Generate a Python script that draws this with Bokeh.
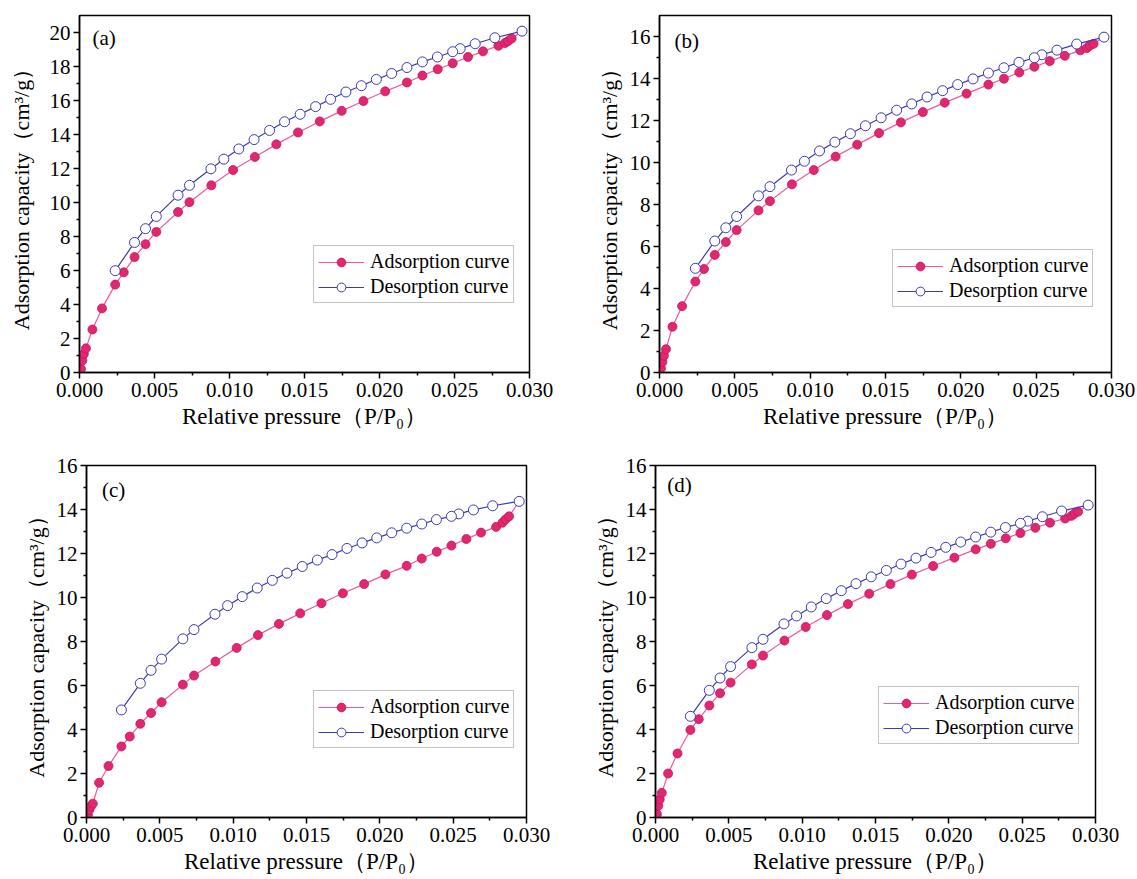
from bokeh.plotting import figure
from bokeh.layouts import column, row
from bokeh.models import FixedTicker, NumeralTickFormatter, Label, Legend, LegendItem, Range1d
from bokeh.embed import file_html
from bokeh.resources import INLINE

# ---------------- data ----------------
ads_p = [0.000095, 0.00019, 0.00029, 0.00043, 0.00086, 0.0015, 0.00238, 0.00295, 0.00367, 0.0044,
         0.00512, 0.00657, 0.00733, 0.00879, 0.01024, 0.01169, 0.01312, 0.01457, 0.01602, 0.01748,
         0.01893, 0.02038, 0.02183, 0.02286, 0.02388, 0.02488, 0.0259, 0.0269, 0.02793, 0.02836,
         0.02857, 0.02881, 0.0295]
des_p = [0.0295, 0.02769, 0.02638, 0.02538, 0.02488, 0.02386, 0.02286, 0.02183, 0.02081, 0.01979,
         0.01879, 0.01776, 0.01674, 0.01574, 0.01471, 0.01367, 0.01267, 0.01164, 0.01062, 0.00962,
         0.00876, 0.00733, 0.00657, 0.00512, 0.0044, 0.00367, 0.00238]

ads_a = [0.21, 0.70, 1.09, 1.42, 2.53, 3.77, 5.17, 5.89, 6.79, 7.55, 8.27, 9.44, 10.02, 11.01, 11.91,
         12.68, 13.42, 14.12, 14.77, 15.39, 15.97, 16.54, 17.06, 17.47, 17.84, 18.19, 18.56, 18.89,
         19.22, 19.38, 19.49, 19.65, 20.08]
des_a = [20.08, 19.69, 19.34, 19.05, 18.87, 18.56, 18.27, 17.94, 17.59, 17.24, 16.87, 16.50, 16.07,
         15.64, 15.19, 14.75, 14.24, 13.70, 13.15, 12.55, 11.98, 11.01, 10.43, 9.18, 8.46, 7.65, 5.99]

ads_b = [0.19, 0.50, 0.80, 1.11, 2.18, 3.16, 4.33, 4.93, 5.60, 6.21, 6.78, 7.72, 8.16, 8.96, 9.64,
         10.28, 10.85, 11.40, 11.91, 12.40, 12.85, 13.28, 13.71, 13.99, 14.29, 14.56, 14.83, 15.08,
         15.34, 15.45, 15.57, 15.65, 15.97]
des_b = [15.97, 15.64, 15.35, 15.13, 14.99, 14.77, 14.51, 14.26, 13.98, 13.71, 13.42, 13.12, 12.79,
         12.49, 12.13, 11.75, 11.37, 10.97, 10.55, 10.06, 9.64, 8.85, 8.41, 7.43, 6.89, 6.26, 4.96]

ads_c = [0.12, 0.35, 0.50, 0.63, 1.58, 2.34, 3.23, 3.68, 4.26, 4.75, 5.24, 6.04, 6.45, 7.09, 7.71,
         8.29, 8.80, 9.28, 9.74, 10.19, 10.61, 11.05, 11.44, 11.77, 12.08, 12.36, 12.66, 12.95,
         13.21, 13.40, 13.55, 13.69, 14.37]
des_c = [14.37, 14.17, 13.98, 13.80, 13.69, 13.54, 13.34, 13.15, 12.94, 12.71, 12.48, 12.23, 11.95,
         11.70, 11.41, 11.11, 10.78, 10.43, 10.04, 9.63, 9.24, 8.54, 8.12, 7.20, 6.69, 6.10, 4.89]

ads_d = [0.15, 0.53, 0.82, 1.12, 2.00, 2.91, 3.98, 4.47, 5.09, 5.65, 6.13, 6.96, 7.36, 8.04, 8.66,
         9.20, 9.70, 10.17, 10.61, 11.04, 11.43, 11.81, 12.19, 12.44, 12.69, 12.93, 13.17, 13.40,
         13.59, 13.71, 13.81, 13.90, 14.20]
des_d = [14.20, 13.93, 13.67, 13.47, 13.37, 13.18, 12.97, 12.75, 12.52, 12.28, 12.05, 11.79, 11.52,
         11.23, 10.94, 10.63, 10.31, 9.95, 9.57, 9.16, 8.80, 8.10, 7.72, 6.86, 6.34, 5.78, 4.60]

panel_labels = ["(a)", "(b)", "(c)", "(d)"]
x_ticks = [0.0, 0.005, 0.010, 0.015, 0.020, 0.025, 0.030]
x_minor = [0.0025, 0.0075, 0.0125, 0.0175, 0.0225, 0.0275]
x_title = "Relative pressure（P/P₀）"
y_title = "Adsorption capacity（cm³/g）"
legend_names = ["Adsorption curve", "Desorption curve"]

FONT = "Liberation Serif"
ADS_LINE = "#F4579C"
ADS_FILL = "#E2266F"
DES_COLOR = "#3B3BB5"


def make_panel(ads, des, ymax, ystep, label, lab_xy, leg_loc, w, h, borders, ylab_standoff):
    left, right, top, bottom = borders
    p = figure(width=w, height=h, output_backend="svg", toolbar_location=None,
               x_range=Range1d(0, 0.030), y_range=Range1d(0, ymax),
               min_border_left=left, min_border_right=right,
               min_border_top=top, min_border_bottom=bottom)
    p.xgrid.visible = False
    p.ygrid.visible = False
    p.outline_line_color = "black"
    p.outline_line_width = 1.5
    p.background_fill_color = "white"
    p.border_fill_color = "white"

    yt = list(range(0, int(ymax) + 1, ystep))
    yminor = [v + ystep / 2 for v in yt if v + ystep / 2 < ymax]
    p.xaxis.ticker = FixedTicker(ticks=x_ticks, minor_ticks=x_minor)
    p.yaxis.ticker = FixedTicker(ticks=yt, minor_ticks=yminor)
    p.xaxis.formatter = NumeralTickFormatter(format="0.000")

    for ax in (p.xaxis[0], p.yaxis[0]):
        ax.axis_line_width = 1.5
        ax.major_tick_line_width = 1.5
        ax.minor_tick_line_width = 1.5
        ax.major_tick_in = 0
        ax.major_tick_out = 6
        ax.minor_tick_in = 0
        ax.minor_tick_out = 3
        ax.major_label_text_font = FONT
        ax.major_label_text_font_size = "21px"
        ax.major_label_text_color = "black"
        ax.axis_label_text_font = FONT
        ax.axis_label_text_font_style = "normal"
        ax.axis_label_text_color = "black"
    p.xaxis.axis_label = x_title
    p.yaxis.axis_label = y_title
    p.xaxis.axis_label_text_font_size = "23px"
    p.yaxis.axis_label_text_font_size = "22px"
    p.xaxis.major_label_standoff = 4
    p.yaxis.major_label_standoff = 3
    p.xaxis.axis_label_standoff = 4
    p.yaxis.axis_label_standoff = ylab_standoff

    l1 = p.line(ads_p, ads, line_color=ADS_LINE, line_width=1.2)
    s1 = p.scatter(ads_p, ads, marker="circle", size=9, fill_color=ADS_FILL,
                   line_color="#C4185C", line_width=0.8)
    l2 = p.line(des_p, des, line_color=DES_COLOR, line_width=1.2)
    s2 = p.scatter(des_p, des, marker="circle", size=10, fill_color="white",
                   line_color=DES_COLOR, line_width=1)

    legend = Legend(items=[LegendItem(label=legend_names[0], renderers=[l1, s1]),
                           LegendItem(label=legend_names[1], renderers=[l2, s2])],
                    location=leg_loc)
    legend.label_text_font = FONT
    legend.label_text_font_size = "20px"
    legend.label_text_color = "black"
    legend.glyph_width = 46
    legend.glyph_height = 22
    legend.label_height = 22
    legend.label_standoff = 6
    legend.spacing = 2
    legend.padding = 4
    legend.margin = 0
    legend.border_line_color = "#8a8a8a"
    legend.border_line_width = 1.5
    legend.background_fill_color = "white"
    legend.background_fill_alpha = 1
    p.add_layout(legend)

    p.add_layout(Label(x=lab_xy[0], y=lab_xy[1], text=label, text_font=FONT,
                       text_font_size="21px", text_baseline="middle", text_color="black"))
    return p


pa = make_panel(ads_a, des_a, 21, 2, panel_labels[0], (0.00087, 19.7), (234, 69),
                568, 440, (79, 39, 13, 68), 13)
pb = make_panel(ads_b, des_b, 17, 2, panel_labels[1], (0.0010, 15.8), (233, 65),
                569, 440, (91, 26, 15, 67), 5)
pc = make_panel(ads_c, des_c, 16, 2, panel_labels[2], (0.00106, 14.9), (227, 69),
                568, 439, (86, 42, 23, 62), 5)
pd = make_panel(ads_d, des_d, 16, 2, panel_labels[3], (0.0008, 15.1), (223, 73),
                569, 439, (87, 42, 25, 61), 5)

layout = column(row(pa, pb), row(pc, pd))
open("out.html", "w").write(file_html(layout, INLINE))
